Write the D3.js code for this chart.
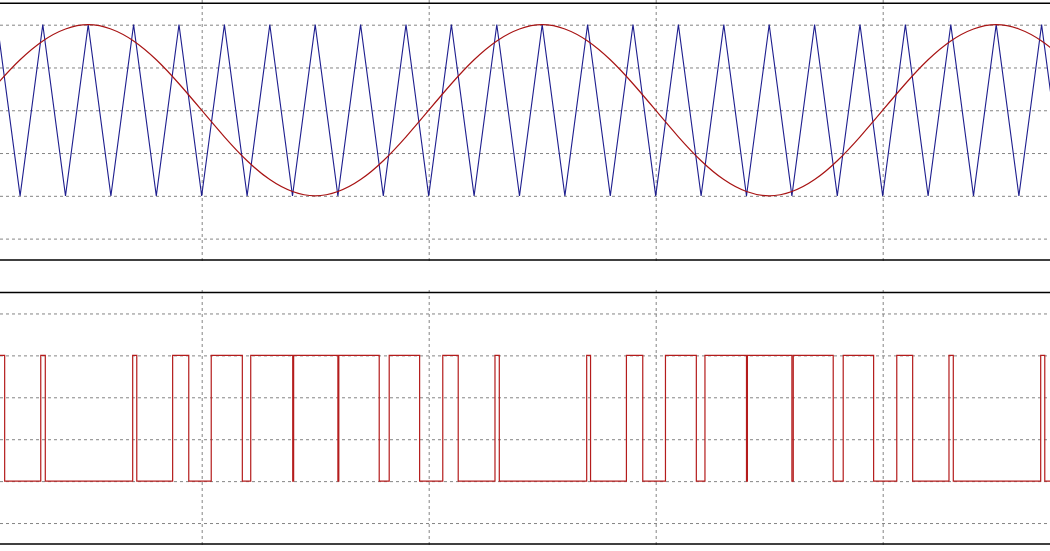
<!DOCTYPE html>
<html><head><meta charset="utf-8">
<script src="https://cdn.jsdelivr.net/npm/d3@7"></script>
<style>html,body{margin:0;padding:0;background:#fff;overflow:hidden}</style>
</head><body><svg id="c" width="1050" height="551"></svg>
<script>
// ---- data (time in ms) ----
const timeMs = [0,1,2,3,4,5,6,7,8,9,10,11,12,13,14,15,16,17,18,19,20,21,22,23,24,25,26,27,28,29,30,31,32,33,34,35,36,37,38,39,40,41,42,43,44,45,46,47,48,49,50];
const sineValues = [0,0.31,0.59,0.81,0.95,1,0.95,0.81,0.59,0.31,0,-0.31,-0.59,-0.81,-0.95,-1,-0.95,-0.81,-0.59,-0.31,
                    0,0.31,0.59,0.81,0.95,1,0.95,0.81,0.59,0.31,0,-0.31,-0.59,-0.81,-0.95,-1,-0.95,-0.81,-0.59,-0.31,
                    0,0.31,0.59,0.81,0.95,1,0.95,0.81,0.59,0.31,0];
const triangleValues = [-1,1,-1,1,-1,1,-1,1,-1,1,-1,1,-1,1,-1,1,-1,1,-1,1,-1,1,-1,1,-1,1,-1,1,-1,1,-1,1,-1,1,-1,1,-1,1,-1,1,-1,1,-1,1,-1,1,-1,1,-1,1,-1];
// PWM switching instants (ms); output starts high and toggles at each edge
const pwmEdgesMs = [1.32,2.91,3.11,6.96,7.14,8.72,9.43,10.42,11.79,12.16,14.01,14.05,16.00,16.04,17.82,18.26,19.60,20.62,
                    21.30,22.92,23.11,26.96,27.13,28.71,29.43,30.43,31.79,32.17,34.00,34.04,36.00,36.06,37.82,38.26,39.60,40.62,
                    41.32,42.92,43.11,46.96,47.14];
const pwmLevels = [300, 0]; // high, low
const topGridValues = [-1.5,-1,-0.5,0,0.5,1];
const bottomGridValues = [-100,0,100,200,300,400];
const timeGridMs = [0,10,20,30,40,50];

// ---- layout ----
const W = 1050;
const svg = d3.select("#c");
const x = d3.scaleLinear().domain([0,50]).range([-25.3, 1109.7]);
const yTop = d3.scaleLinear().domain([-1.75,1.25]).range([260, 3.3]);
const yBot = d3.scaleLinear().domain([-150,450]).range([544, 292.5]);

svg.append("defs").append("clipPath").attr("id","clipTop")
  .append("rect").attr("x",0).attr("y",3).attr("width",W).attr("height",257);
svg.select("defs").append("clipPath").attr("id","clipBot")
  .append("rect").attr("x",0).attr("y",292).attr("width",W).attr("height",252);

function styleGrid(g){
  g.select(".domain").remove();
  g.selectAll(".tick line").attr("stroke","#858585").attr("stroke-width",1).attr("stroke-dasharray","3,3");
  g.selectAll(".tick text").remove();
}

// top panel grids
svg.append("g").attr("transform","translate(0,0)")
  .call(d3.axisLeft(yTop).tickValues(topGridValues).tickSize(-W).tickFormat(""))
  .call(styleGrid);
svg.append("g").attr("transform","translate(0,261)")
  .call(d3.axisBottom(x).tickValues(timeGridMs).tickSize(-261).tickFormat(""))
  .call(styleGrid);
// bottom panel grids
svg.append("g").attr("transform","translate(0,0)")
  .call(d3.axisLeft(yBot).tickValues(bottomGridValues).tickSize(-W).tickFormat(""))
  .call(styleGrid);
svg.append("g").attr("transform","translate(0,545)")
  .call(d3.axisBottom(x).tickValues(timeGridMs).tickSize(-258).tickFormat(""))
  .call(styleGrid);

// top panel series
const tri = timeMs.map((t,i)=>({t, v: triangleValues[i]}));
const sine = timeMs.map((t,i)=>({t, v: sineValues[i]}));
const gTop = svg.append("g").attr("clip-path","url(#clipTop)");
gTop.append("path").datum(tri)
  .attr("fill","none").attr("stroke","#1f1f8f").attr("stroke-width",1.1)
  .attr("d", d3.line().x(d=>x(d.t)).y(d=>yTop(d.v)));
gTop.append("path").datum(sine)
  .attr("fill","none").attr("stroke","#a81414").attr("stroke-width",1.2)
  .attr("d", d3.line().x(d=>x(d.t)).y(d=>yTop(d.v)).curve(d3.curveNatural));

// bottom panel PWM
const pwm = [{t:0, v: pwmLevels[0]}];
pwmEdgesMs.forEach((t,i)=>pwm.push({t, v: pwmLevels[(i+1)%2]}));
pwm.push({t:50, v: pwm[pwm.length-1].v});
const gBot = svg.append("g").attr("clip-path","url(#clipBot)");
gBot.append("path").datum(pwm)
  .attr("fill","none").attr("stroke","#b41c1c").attr("stroke-width",1.2)
  .attr("d", d3.line().x(d=>x(d.t)).y(d=>yBot(d.v)).curve(d3.curveStepAfter));

// panel borders (top and bottom edges)
[yTop.range()[1], yTop.range()[0], yBot.range()[1], yBot.range()[0]].forEach(yy=>{
  svg.append("line").attr("x1",0).attr("x2",W).attr("y1",yy).attr("y2",yy)
    .attr("stroke","#000").attr("stroke-width",1.6);
});
</script>
</body></html>
